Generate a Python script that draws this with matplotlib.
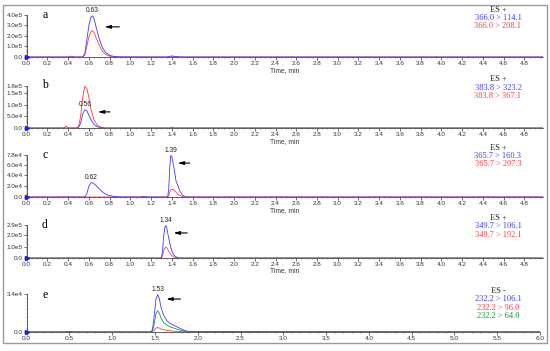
import matplotlib
matplotlib.use("Agg")
import matplotlib.pyplot as plt
from matplotlib.patches import Rectangle
from matplotlib.ticker import MultipleLocator, AutoMinorLocator

plt.rcParams["font.family"] = ["Liberation Sans", "DejaVu Sans"]

# ---------------- data ----------------
a_t = [0.0, 0.40, 0.42, 0.44, 0.46, 0.54, 0.56, 0.58, 0.60, 0.62, 0.635, 0.65, 0.67, 0.70, 0.73, 0.76, 0.80, 0.85, 0.90, 1.35, 1.38, 1.40, 1.42, 1.46, 1.50, 4.98]
a_blue = [0, 0, 0, 0, 0, 0, 0.3e5, 1.6e5, 3.0e5, 3.8e5, 3.9e5, 3.6e5, 2.8e5, 1.7e5, 0.9e5, 0.45e5, 0.15e5, 0.04e5, 0.01e5, 0, 0.06e5, 0.1e5, 0.06e5, 0.02e5, 0, 0]
a_red = [0, 0, 0.08e5, 0.05e5, 0, 0, 0.2e5, 1.0e5, 1.9e5, 2.4e5, 2.5e5, 2.3e5, 1.8e5, 1.1e5, 0.55e5, 0.25e5, 0.07e5, 0.02e5, 0, 0, 0, 0.02e5, 0, 0, 0, 0]

b_t = [0.0, 0.36, 0.38, 0.40, 0.48, 0.50, 0.52, 0.54, 0.56, 0.58, 0.60, 0.62, 0.65, 0.68, 0.72, 0.76, 1.38, 1.40, 1.42, 4.98]
b_red = [0, 0, 0.08e5, 0, 0, 0.05e5, 0.5e5, 1.3e5, 1.78e5, 1.7e5, 1.3e5, 0.8e5, 0.35e5, 0.12e5, 0.03e5, 0, 0, 0.03e5, 0, 0]
b_blue = [0, 0, 0, 0, 0, 0.02e5, 0.2e5, 0.6e5, 0.78e5, 0.74e5, 0.55e5, 0.35e5, 0.15e5, 0.05e5, 0.01e5, 0, 0, 0, 0, 0]

c_t = [0.0, 0.38, 0.40, 0.42, 0.56, 0.58, 0.60, 0.62, 0.64, 0.67, 0.70, 0.74, 0.78, 0.84, 0.90, 1.10, 1.13, 1.16, 1.36, 1.37, 1.38, 1.39, 1.40, 1.42, 1.44, 1.46, 1.48, 1.50, 1.53, 4.98]
c_blue = [0, 0, 0, 0, 0, 0.6e4, 2.0e4, 2.65e4, 2.6e4, 2.1e4, 1.5e4, 0.8e4, 0.35e4, 0.1e4, 0, 0, 0.08e4, 0, 0, 1.5e4, 5.5e4, 7.7e4, 7.5e4, 5.5e4, 3.0e4, 2.0e4, 1.0e4, 0.4e4, 0, 0]
c_red = [0, 0, 0.06e4, 0, 0, 0, 0, 0, 0, 0, 0, 0, 0, 0, 0, 0, 0.05e4, 0, 0, 0.2e4, 0.9e4, 1.3e4, 1.45e4, 1.3e4, 0.9e4, 0.5e4, 0.25e4, 0.1e4, 0, 0]

d_t = [0.0, 1.29, 1.30, 1.31, 1.32, 1.33, 1.34, 1.35, 1.36, 1.38, 1.40, 1.42, 1.45, 1.48, 4.98]
d_blue = [0, 0, 0.05e5, 0.6e5, 1.8e5, 2.6e5, 2.85e5, 2.7e5, 2.2e5, 1.3e5, 0.6e5, 0.25e5, 0.05e5, 0, 0]
d_red = [0, 0, 0.02e5, 0.2e5, 0.6e5, 0.85e5, 0.95e5, 0.9e5, 0.75e5, 0.45e5, 0.2e5, 0.08e5, 0.02e5, 0, 0]

e_t = [0.0, 0.45, 0.5, 0.55, 1.45, 1.47, 1.49, 1.51, 1.53, 1.55, 1.57, 1.60, 1.64, 1.68, 1.72, 1.76, 1.80, 1.85, 1.90, 6.0]
e_blue = [0, 0, 0.05e4, 0, 0, 0.2e4, 1.4e4, 2.9e4, 3.35e4, 3.0e4, 2.2e4, 1.5e4, 1.0e4, 0.75e4, 0.6e4, 0.45e4, 0.3e4, 0.12e4, 0.03e4, 0]
e_green = [0, 0, 0, 0, 0, 0.1e4, 0.7e4, 1.6e4, 1.9e4, 1.7e4, 1.25e4, 0.85e4, 0.6e4, 0.45e4, 0.35e4, 0.25e4, 0.15e4, 0.06e4, 0.01e4, 0]
e_red = [0, 0, 0, 0, 0, 0.02e4, 0.15e4, 0.35e4, 0.4e4, 0.35e4, 0.27e4, 0.2e4, 0.15e4, 0.1e4, 0.07e4, 0.05e4, 0.03e4, 0.01e4, 0, 0]

ytick_a = [0, 1e5, 2e5, 3e5, 4e5]
ylab_a = ["0.0", "1.0e5", "2.0e5", "3.0e5", "4.0e5"]
ytick_b = [0, 5e4, 1e5, 1.5e5, 1.8e5]
ylab_b = ["0.0", "5.0e4", "1.0e5", "1.5e5", "1.8e5"]
ytick_c = [0, 2e4, 4e4, 6e4, 7.8e4]
ylab_c = ["0.0", "2.0e4", "4.0e4", "6.0e4", "7.8e4"]
ytick_d = [0, 1e5, 2e5, 2.9e5]
ylab_d = ["0.0", "1.0e5", "2.0e5", "2.9e5"]
ytick_e = [0, 3.4e4]
ylab_e = ["0.0", "3.4e4"]
xtick_e = [0, 0.5, 1.0, 1.5, 2.0, 2.5, 3.0, 3.5, 4.0, 4.5, 5.0, 5.5, 6.0]

legend_a = ["ES +", "366.0 > 114.1", "366.0 > 208.1"]
legend_b = ["ES +", "383.8 > 323.2", "383.8 > 367.1"]
legend_c = ["ES +", "365.7 > 160.3", "365.7 > 207.3"]
legend_d = ["ES +", "349.7 > 106.1", "349.7 > 192.1"]
legend_e = ["ES -", "232.2 > 106.1", "232.2 > 96.0", "232.2 > 64.0"]

BLUE = "#3b3bff"
RED = "#ff3b3b"
GREEN = "#119a3a"

W, H = 550, 351
fig = plt.figure(figsize=(W / 100, H / 100), dpi=100)
fig.patch.set_facecolor("white")

# outer frame
fig.add_artist(Rectangle((3 / W, 1 - 343 / H), 544 / W, 338 / H, transform=fig.transFigure,
                         fill=False, edgecolor="#9a9a9a", lw=1.0))


def px_ax(top, bottom, left=26.7, right=543):
    return [left / W, 1 - bottom / H, (right - left) / W, (bottom - top) / H]


def style(ax, yt, yl, xmax, major, minor, xlabel):
    ax.set_xlim(0, xmax)
    ax.set_ylim(0, yt[-1])
    ax.set_yticks(yt)
    ax.set_yticklabels(yl)
    ax.xaxis.set_major_locator(MultipleLocator(major))
    ax.xaxis.set_minor_locator(MultipleLocator(minor))
    ax.yaxis.set_minor_locator(AutoMinorLocator(10))
    for s in ["top", "right"]:
        ax.spines[s].set_visible(False)
    for s in ["left", "bottom"]:
        ax.spines[s].set_linewidth(0.6)
        ax.spines[s].set_color("#444444")
    ax.tick_params(which="major", length=2, width=0.5, labelsize=4.6, pad=1, colors="#333333")
    ax.tick_params(which="minor", length=1, width=0.4, colors="#555555")
    ax.patch.set_alpha(0)
    if xlabel:
        ax.set_xlabel(xlabel, fontsize=4.8, labelpad=0.5, color="#333333")
    ax.plot([0], [0], marker=">", color="#1a1aff", ms=3, clip_on=False, zorder=5)


def fmt_x(ax, last):
    ticks = [round(i * 0.2, 1) for i in range(int(round(last / 0.2)) + 1)]
    ax.set_xticks(ticks)
    ax.set_xticklabels([f"{v:.1f}" for v in ticks])


def peak_label(ax, x, y, s):
    ax.annotate(s, (x, y), xytext=(0, 1), textcoords="offset points", ha="center", va="bottom",
                fontsize=4.8, color="#222222")


def arrow(ax, x0, x1, y):
    ax.annotate("", xy=(x1, y), xytext=(x0, y),
                arrowprops=dict(arrowstyle="-|>,head_length=0.35,head_width=0.1", color="black", lw=0.8))


def legend(lines, colors, ys):
    for s, c, y in zip(lines, colors, ys):
        fig.text(498 / W, 1 - y / H, s, ha="center", va="center", fontsize=6,
                 family="Liberation Serif", color=c)


def letter(s, y):
    fig.text(45 / W, 1 - y / H, s, ha="center", va="center", fontsize=8.5, family="Liberation Serif")


lw = 0.6
# panel a
ax = fig.add_axes(px_ax(14.7, 57))
ax.plot(a_t, a_red, color=RED, lw=lw)
ax.plot(a_t, a_blue, color=BLUE, lw=lw)
style(ax, ytick_a, ylab_a, 4.98, 0.2, 0.05, "Time, min")
fmt_x(ax, 4.8)
peak_label(ax, 0.635, 3.9e5, "0.63")
arrow(ax, 0.92, 0.725, 2.85e5)
legend(legend_a, ["#222222", BLUE, RED], [9.5, 17.8, 26.1])
letter("a", 15)

# panel b
ax = fig.add_axes(px_ax(86, 128))
ax.plot(b_t, b_red, color=RED, lw=lw)
ax.plot(b_t, b_blue, color=BLUE, lw=lw)
style(ax, ytick_b, ylab_b, 4.98, 0.2, 0.05, "Time, min")
fmt_x(ax, 4.8)
peak_label(ax, 0.56, 0.78e5, "0.56")
arrow(ax, 0.83, 0.66, 0.69e5)
legend(legend_b, ["#222222", BLUE, RED], [79, 87.5, 96])
letter("b", 85)

# panel c
ax = fig.add_axes(px_ax(155, 197))
ax.plot(c_t, c_red, color=RED, lw=lw)
ax.plot(c_t, c_blue, color=BLUE, lw=lw)
style(ax, ytick_c, ylab_c, 4.98, 0.2, 0.05, "Time, min")
fmt_x(ax, 4.8)
peak_label(ax, 0.62, 2.65e4, "0.62")
peak_label(ax, 1.39, 7.7e4, "1.39")
arrow(ax, 1.60, 1.43, 6.3e4)
legend(legend_c, ["#222222", BLUE, RED], [147.5, 156, 164.5])
letter("c", 155)

# panel d
ax = fig.add_axes(px_ax(225, 258))
ax.plot(d_t, d_red, color=RED, lw=lw)
ax.plot(d_t, d_blue, color=BLUE, lw=lw)
style(ax, ytick_d, ylab_d, 4.98, 0.2, 0.05, "Time. min")
fmt_x(ax, 4.8)
peak_label(ax, 1.34, 2.85e5, "1.34")
arrow(ax, 1.575, 1.39, 2.2e5)
legend(legend_d, ["#222222", BLUE, RED], [218, 226.5, 235])
letter("d", 225)

# panel e
ax = fig.add_axes(px_ax(294, 332, right=540))
ax.plot(e_t, e_red, color=RED, lw=lw)
ax.plot(e_t, e_green, color=GREEN, lw=lw)
ax.plot(e_t, e_blue, color=BLUE, lw=lw)
style(ax, ytick_e, ylab_e, 6.0, 0.5, 0.1, None)
ax.set_xticks(xtick_e)
ax.set_xticklabels([f"{v:.1f}" for v in xtick_e])
peak_label(ax, 1.53, 3.35e4, "1.53")
arrow(ax, 1.83, 1.60, 2.95e4)
legend(legend_e, ["#222222", BLUE, RED, GREEN], [291, 299.3, 307.6, 316])
letter("e", 295)

fig.savefig("out.png", dpi=100)
